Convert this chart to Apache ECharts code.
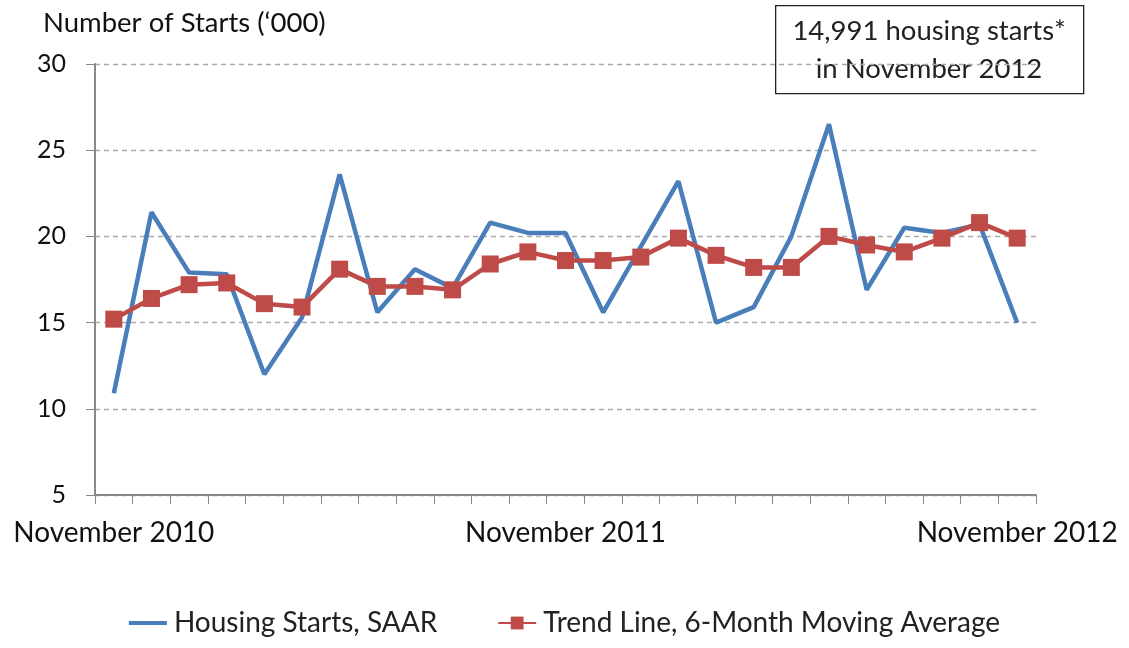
<!DOCTYPE html>
<html>
<head>
<meta charset="utf-8">
<script src="https://cdn.jsdelivr.net/npm/echarts@6/dist/echarts.min.js"></script>
<style>
  html, body { margin: 0; padding: 0; background: #fff; }
  #chart { width: 1129px; height: 648px; }
</style>
</head>
<body>
<div id="chart"></div>
<script>
// months Nov 2010 .. Nov 2012
var months = [
  'November 2010', 'December 2010', 'January 2011', 'February 2011', 'March 2011', 'April 2011',
  'May 2011', 'June 2011', 'July 2011', 'August 2011', 'September 2011', 'October 2011',
  'November 2011', 'December 2011', 'January 2012', 'February 2012', 'March 2012', 'April 2012',
  'May 2012', 'June 2012', 'July 2012', 'August 2012', 'September 2012', 'October 2012',
  'November 2012'
];
var housingStarts = [
  10.9, 21.4, 17.9, 17.8, 12.0, 15.3, 23.6, 15.6, 18.1, 17.0, 20.8, 20.2, 20.2,
  15.6, 19.4, 23.2, 15.0, 15.9, 20.0, 26.5, 16.9, 20.5, 20.2, 20.7, 14.991
];
var movingAvg = [
  15.2, 16.4, 17.2, 17.3, 16.1, 15.9, 18.1, 17.1, 17.1, 16.9, 18.4, 19.1, 18.6,
  18.6, 18.8, 19.9, 18.9, 18.2, 18.2, 20.0, 19.5, 19.1, 19.9, 20.8, 19.9
];
var yTicks = [5, 10, 15, 20, 25, 30];
var noteLines = ['14,991 housing starts*', 'in November 2012'];

var font = 'Lato';
var chart = echarts.init(document.getElementById('chart'));
chart.setOption({
  animation: false,
  textStyle: { fontFamily: font },
  grid: { left: 95, right: 93, top: 64, bottom: 153 },
  graphic: [
    {
      type: 'rect',
      left: 775, top: 5,
      shape: { width: 308, height: 88 },
      style: { fill: '#fff', stroke: '#222', lineWidth: 1.3 }
    },
    {
      type: 'text',
      style: {
        x: 929, y: 50,
        text: noteLines.join('\n'),
        align: 'center', verticalAlign: 'middle',
        fontSize: 27.5, fontFamily: font, fill: '#222', lineHeight: 38
      }
    }
  ],
  legend: {
    bottom: 6,
    left: 'center',
    itemWidth: 38,
    itemHeight: 16,
    itemGap: 60,
    textStyle: { fontSize: 28, color: '#222', fontFamily: font, padding: [0, 0, 0, 2] },
    data: [
      { name: 'Housing Starts, SAAR', icon: 'path://M0,7 L38,7 L38,11 L0,11 Z' },
      { name: 'Trend Line, 6-Month Moving Average' }
    ]
  },
  xAxis: {
    type: 'category',
    data: months,
    boundaryGap: true,
    axisLine: { lineStyle: { color: '#888', width: 2 } },
    axisTick: { show: true, length: 9, interval: 0, lineStyle: { color: '#888', width: 1 } },
    axisLabel: {
      interval: 11,
      margin: 24,
      fontSize: 28,
      color: '#111',
      fontFamily: font,
      showMinLabel: true,
      showMaxLabel: true
    }
  },
  yAxis: {
    type: 'value',
    min: yTicks[0],
    max: yTicks[yTicks.length - 1],
    interval: 5,
    name: "Number of Starts (\u2018000)",
    nameLocation: 'end',
    nameGap: 27,
    nameTextStyle: { fontSize: 27.5, color: '#111', align: 'left', padding: [0, 0, 0, -52], fontFamily: font },
    axisLine: { show: true, lineStyle: { color: '#888', width: 2 } },
    axisTick: { show: true, length: 9, lineStyle: { color: '#888' } },
    axisLabel: { fontSize: 25, color: '#111', margin: 29, fontFamily: font },
    splitLine: { lineStyle: { color: '#aaa', type: [5, 4], width: 1.3 } }
  },
  series: [
    {
      name: 'Housing Starts, SAAR',
      type: 'line',
      data: housingStarts,
      symbol: 'none',
      lineStyle: { color: '#4A7EBB', width: 4.5 },
      itemStyle: { color: '#4A7EBB' }
    },
    {
      name: 'Trend Line, 6-Month Moving Average',
      type: 'line',
      data: movingAvg,
      symbol: 'rect',
      symbolSize: 17,
      lineStyle: { color: '#BE4B48', width: 4.5 },
      itemStyle: { color: '#BE4B48' }
    }
  ]
});
</script>
</body>
</html>
